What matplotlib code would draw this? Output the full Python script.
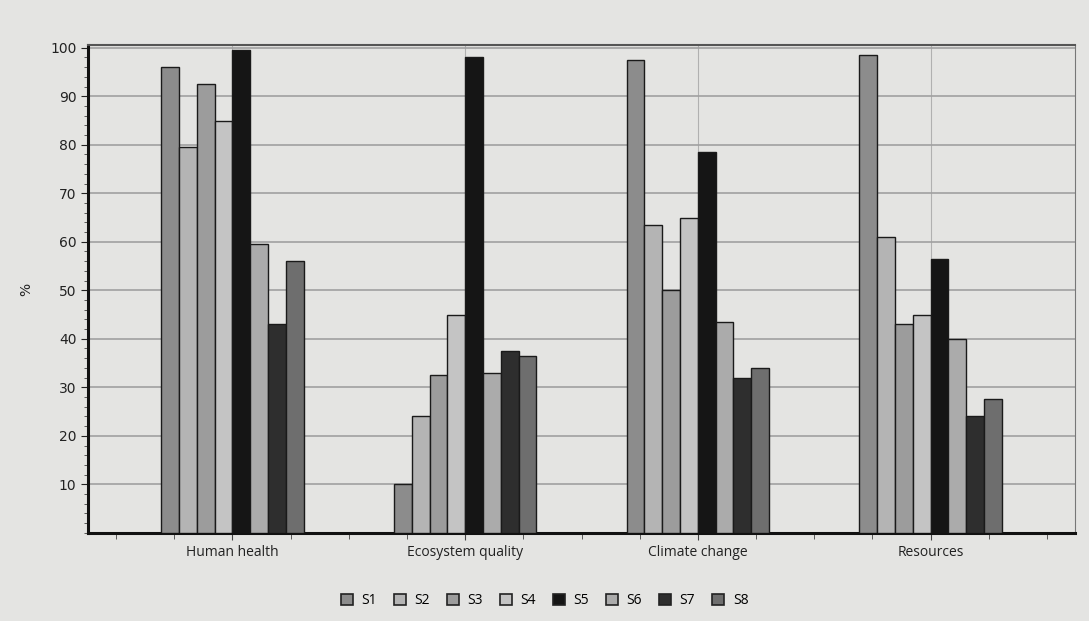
from matplotlib import pyplot as plt
from matplotlib.ticker import MultipleLocator
import numpy as np

# impact categories and scenario results (%)
categories = ['Human health', 'Ecosystem quality', 'Climate change', 'Resources']
scenarios = ['S1', 'S2', 'S3', 'S4', 'S5', 'S6', 'S7', 'S8']
values = {
    'S1': [96, 10, 97.5, 98.5],
    'S2': [79.5, 24, 63.5, 61],
    'S3': [92.5, 32.5, 50, 43],
    'S4': [85, 45, 65, 45],
    'S5': [99.5, 98, 78.5, 56.5],
    'S6': [59.5, 33, 43.5, 40],
    'S7': [43, 37.5, 32, 24],
    'S8': [56, 36.5, 34, 27.5],
}
colors = ['#8c8c8c', '#b4b4b4', '#9c9c9c', '#c4c4c4', '#151515', '#ababab', '#2e2e2e', '#6e6e6e']

paper = '#e4e4e2'
fig = plt.figure(figsize=(10.89, 6.21), dpi=100, facecolor=paper)
ax = fig.add_axes([0.081, 0.142, 0.906, 0.785], facecolor=paper)
plt.rcParams['font.family'] = ['Open Sans', 'DejaVu Sans']

x = np.arange(len(categories))
width = 0.0765
for i, s in enumerate(scenarios):
    offset = (i - 3.5) * width
    ax.bar(x + offset, values[s], width, color=colors[i], edgecolor='#1a1a1a',
           linewidth=1.0, label=s, zorder=3)

ax.set_xlim(-0.62, 3.62)
ax.set_ylim(0, 100.5)
ax.set_yticks(np.arange(10, 101, 10))
ax.yaxis.set_minor_locator(MultipleLocator(2))
ax.set_xticks(x)
ax.set_xticklabels(categories, fontsize=10, family='Open Sans', color='#222222')
ax.set_xticks(np.arange(-0.5, 3.6, 0.25), minor=True)
ax.tick_params(axis='x', which='major', length=5, color='#444444')
ax.tick_params(axis='x', which='minor', length=4, color='#444444')
ax.tick_params(axis='y', which='major', length=5, labelsize=10, colors='#222222')
ax.tick_params(axis='y', which='minor', length=3, color='#444444')
ax.set_ylabel('%', fontsize=10, color='#222222', labelpad=12)

ax.grid(axis='y', color='#a0a0a0', linewidth=1.2, zorder=0)
ax.grid(axis='x', color='#b0b0b0', linewidth=0.8, zorder=0)

ax.spines['left'].set_linewidth(2.2)
ax.spines['bottom'].set_linewidth(2.2)
ax.spines['left'].set_color('#111111')
ax.spines['bottom'].set_color('#111111')
ax.spines['top'].set_color('#555555')
ax.spines['right'].set_color('#777777')
ax.spines['top'].set_linewidth(1.5)

leg = fig.legend(loc='lower center', bbox_to_anchor=(0.5, 0.0), ncol=8, frameon=False,
                 fontsize=10, handlelength=0.9, handleheight=0.9, columnspacing=1.2,
                 handletextpad=0.6)
for h in leg.legend_handles:
    h.set_edgecolor('#222222')
    h.set_linewidth(1.2)

plt.savefig('out.png', dpi=100, facecolor=paper)
